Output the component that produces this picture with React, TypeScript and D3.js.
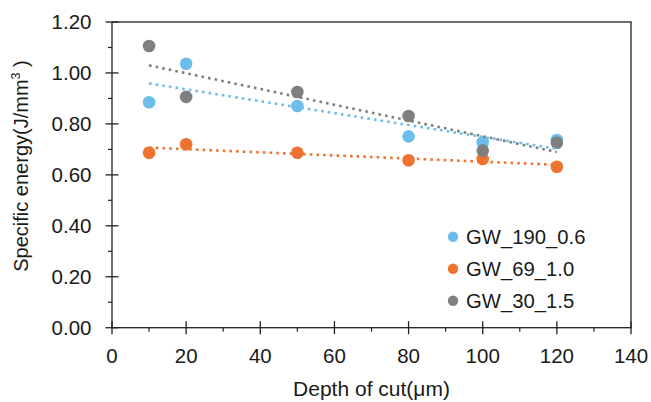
import React from "react";
import * as d3 from "d3";

// depth of cut (µm)
const depths = [10, 20, 50, 80, 100, 120];

// specific energy (J/mm3) per wheel
const gw190 = [0.885, 1.036, 0.87, 0.751, 0.728, 0.737];
const gw69 = [0.687, 0.72, 0.687, 0.657, 0.662, 0.632];
const gw30 = [1.106, 0.906, 0.925, 0.831, 0.695, 0.726];

const seriesNames = ["GW_190_0.6", "GW_69_1.0", "GW_30_1.5"];
const seriesColors = ["#6DBDEB", "#EE7230", "#7F7F7F"];

const xTicks = [0, 20, 40, 60, 80, 100, 120, 140];
const yTicks = [0, 0.2, 0.4, 0.6, 0.8, 1.0, 1.2];

const W = 651;
const H = 402;
const font = "'Liberation Sans', Arial, sans-serif";

// least squares line for the dotted trend
const fit = (xs: number[], ys: number[]) => {
  const mx = d3.mean(xs) as number;
  const my = d3.mean(ys) as number;
  let sxy = 0;
  let sxx = 0;
  xs.forEach((x, i) => {
    sxy += (x - mx) * (ys[i] - my);
    sxx += (x - mx) * (x - mx);
  });
  const b = sxy / sxx;
  return (x: number) => my + b * (x - mx);
};

export default function App() {
  const x = d3.scaleLinear().domain([0, 140]).range([112, 631]);
  const y = d3.scaleLinear().domain([0, 1.2]).range([327.7, 22]);

  const all = [gw190, gw69, gw30];
  const minorX = d3.range(10, 140, 20);
  const minorY = d3.range(0.1, 1.2, 0.2);

  return (
    <svg
      width={W}
      height={H}
      style={{ position: "absolute", left: 0, top: 0, background: "#fff" }}
      fontFamily={font}
    >
      {/* plot box */}
      <rect
        x={x(0)}
        y={y(1.2)}
        width={x(140) - x(0)}
        height={y(0) - y(1.2)}
        fill="none"
        stroke="#222"
        strokeWidth={1.3}
      />

      {/* y axis ticks */}
      {yTicks.map((t) => (
        <g key={"y" + t}>
          <line x1={x(0) - 6.5} x2={x(0) + 6.5} y1={y(t)} y2={y(t)} stroke="#222" strokeWidth={1.3} />
          <text
            x={91.5}
            y={y(t)}
            dy="0.36em"
            textAnchor="end"
            fontSize={20.5}
            fill="#1a1a1a"
          >
            {d3.format(".2f")(t)}
          </text>
        </g>
      ))}
      {minorY.map((t) => (
        <line key={"my" + t} x1={x(0) - 4} x2={x(0)} y1={y(t)} y2={y(t)} stroke="#222" strokeWidth={1.2} />
      ))}

      {/* x axis ticks */}
      {xTicks.map((t) => (
        <g key={"x" + t}>
          <line x1={x(t)} x2={x(t)} y1={y(0) - 6.5} y2={y(0) + 6.5} stroke="#222" strokeWidth={1.3} />
          <text x={x(t)} y={y(0) + 27.5} dy="0.36em" textAnchor="middle" fontSize={20.5} fill="#1a1a1a">
            {t}
          </text>
        </g>
      ))}
      {minorX.map((t) => (
        <line key={"mx" + t} x1={x(t)} x2={x(t)} y1={y(0)} y2={y(0) + 4} stroke="#222" strokeWidth={1.2} />
      ))}

      {/* axis titles */}
      <text x={x(70)} y={395.5} textAnchor="middle" fontSize={21} fill="#1a1a1a">
        Depth of cut(μm)
      </text>
      <text
        transform={`translate(27.5,166) rotate(-90)`}
        textAnchor="middle"
        fontSize={20}
        fill="#1a1a1a"
      >
        Specific energy(J/mm
        <tspan fontSize={12.5} dy={-8}>3</tspan>
        <tspan dy={8}> )</tspan>
      </text>

      {/* points */}
      {all.map((vals, s) =>
        vals.map((v, i) => (
          <circle key={s + "-" + i} cx={x(depths[i])} cy={y(v)} r={6.3} fill={seriesColors[s]} />
        ))
      )}

      {/* trend lines */}
      {all.map((vals, s) => {
        const f = fit(depths, vals);
        const x0 = depths[0];
        const x1 = depths[depths.length - 1];
        return (
          <line
            key={"t" + s}
            x1={x(x0)}
            x2={x(x1)}
            y1={y(f(x0))}
            y2={y(f(x1))}
            stroke={seriesColors[s]}
            strokeWidth={2.6}
            strokeDasharray="2.6 4.1"
          />
        );
      })}

      {/* legend */}
      {seriesNames.map((n, i) => (
        <g key={n} transform={`translate(453,${236.7 + i * 32})`}>
          <circle r={5.2} fill={seriesColors[i]} />
          <text x={13} dy="0.36em" fontSize={20.3} fill="#1a1a1a">
            {n}
          </text>
        </g>
      ))}
    </svg>
  );
}
